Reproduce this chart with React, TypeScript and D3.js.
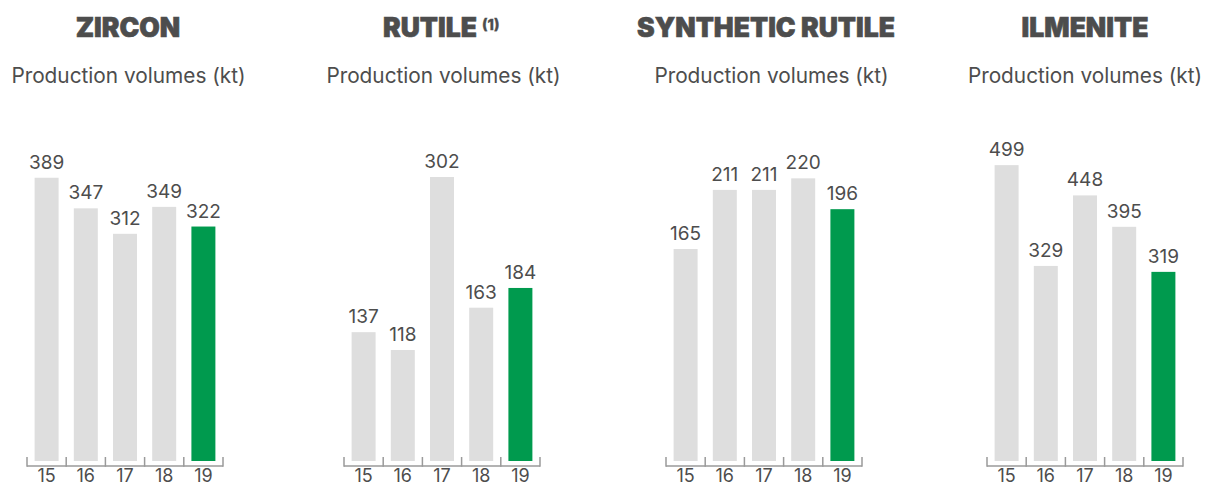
import React from "react";
import * as d3 from "d3";

const years = ["15", "16", "17", "18", "19"];
const titles = ["ZIRCON", "RUTILE", "SYNTHETIC RUTILE", "ILMENITE"];
const titleNotes = ["", "(1)", "", ""];
const subtitle = "Production volumes (kt)";
const zircon = [389, 347, 312, 349, 322];
const rutile = [137, 118, 302, 163, 184];
const syntheticRutile = [165, 211, 211, 220, 196];
const ilmenite = [499, 329, 448, 395, 319];
const seriesList = [zircon, rutile, syntheticRutile, ilmenite];
const domainMax = [412, 319, 233.5, 506];

const W = 1205;
const H = 487;
const axisStart = [27, 344, 666, 987];
const axisWidth = 196;
const titleCenter = [128, 430, 766, 1085];
const subCenter = [128.5, 443.5, 771.5, 1085];
const baseY = 461;
const topY = 161;
const GREY = "#dedede";
const GREEN = "#009a4e";
const TEXT = "#4d4d4d";
const AXIS = "#9a9a9a";
const FONT = "Inter, 'Noto Sans', sans-serif";

function Panel({ i }: { i: number }) {
  const values = seriesList[i];
  const x = d3
    .scaleBand<string>()
    .domain(years)
    .range([axisStart[i], axisStart[i] + axisWidth])
    .paddingInner(0.388)
    .paddingOuter(0.194);
  const y = d3.scaleLinear().domain([0, domainMax[i]]).range([baseY, topY]);
  const step = x.step();
  const x0 = axisStart[i];
  const tickXs = d3.range(years.length + 1).map((k) => x0 + k * step);
  return (
    <g>
      <text
        x={titleCenter[i]}
        y={37}
        textAnchor="middle"
        fontFamily={FONT}
        fontWeight={900}
        fontSize={26.5}
        fill={TEXT}
        stroke={TEXT}
        strokeWidth={0.6}
      >
        {titles[i]}
      </text>
      {titleNotes[i] && (
        <text
          x={482}
          y={30}
          fontFamily={FONT}
          fontWeight={800}
          fontSize={14.5}
          fill={TEXT}
          stroke={TEXT}
          strokeWidth={0.3}
        >
          {titleNotes[i]}
        </text>
      )}
      <text
        x={subCenter[i]}
        y={83}
        textAnchor="middle"
        fontFamily={FONT}
        fontSize={20.8}
        fill={TEXT}
      >
        {subtitle}
      </text>
      {values.map((v, k) => (
        <g key={k}>
          <rect
            x={x(years[k])}
            y={y(v)}
            width={x.bandwidth()}
            height={baseY - y(v)}
            fill={k === years.length - 1 ? GREEN : GREY}
          />
          <text
            x={(x(years[k]) as number) + x.bandwidth() / 2}
            y={y(v) - 9}
            textAnchor="middle"
            fontFamily={FONT}
            fontSize={19}
            fill={TEXT}
          >
            {v}
          </text>
          <text
            x={(x(years[k]) as number) + x.bandwidth() / 2}
            y={482}
            textAnchor="middle"
            fontFamily={FONT}
            fontSize={18}
            fill={TEXT}
          >
            {years[k]}
          </text>
        </g>
      ))}
      <line
        x1={x0}
        x2={x0 + axisWidth}
        y1={466}
        y2={466}
        stroke={AXIS}
        strokeWidth={1.5}
      />
      {tickXs.map((tx, k) => (
        <line
          key={k}
          x1={tx}
          x2={tx}
          y1={457}
          y2={466.75}
          stroke={AXIS}
          strokeWidth={1.5}
        />
      ))}
    </g>
  );
}

export default function App() {
  return (
    <svg
      width={W}
      height={H}
      style={{ position: "absolute", left: 0, top: 0, background: "#fff" }}
    >
      {titles.map((_, i) => (
        <Panel key={i} i={i} />
      ))}
    </svg>
  );
}
